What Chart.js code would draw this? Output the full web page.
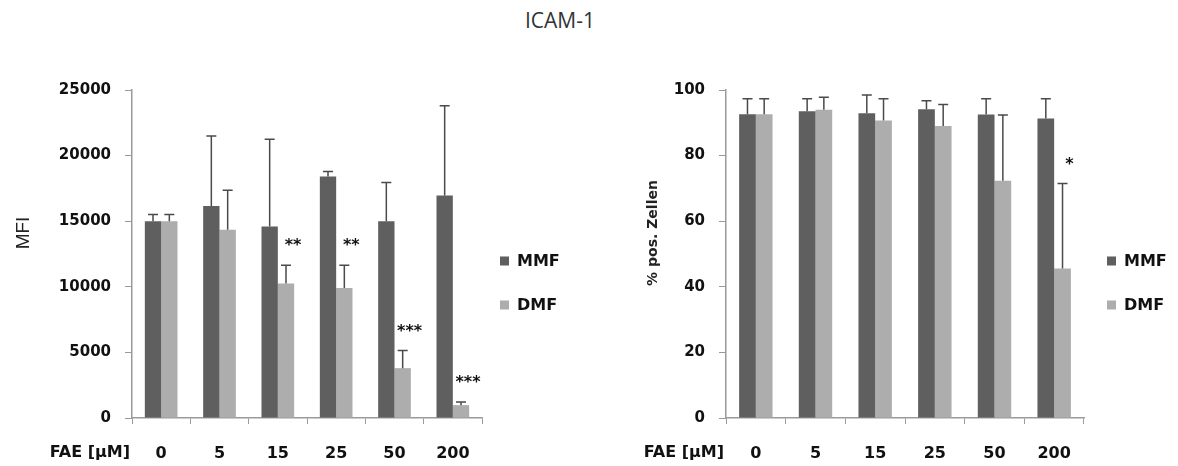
<!DOCTYPE html>
<html>
<head>
<meta charset="utf-8">
<script src="https://cdn.jsdelivr.net/npm/chart.js@4.4.0/dist/chart.umd.min.js"></script>
<style>
  body { margin: 0; background: #fff; }
  #wrap { position: relative; width: 1178px; height: 466px; }
  #titel { position: absolute; left: 460px; width: 200px; top: 6px; text-align: center;
           font: 21px "Open Sans", sans-serif; color: #333; }
  .panel { position: absolute; top: 0; height: 466px; }
</style>
</head>
<body>
<div id="wrap">
  <div id="titel">ICAM-1</div>
  <div class="panel" style="left:0; width:590px;"><canvas id="mfi"></canvas></div>
  <div class="panel" style="left:590px; width:588px;"><canvas id="pos"></canvas></div>
</div>
<script>
const kategorien = ["0", "5", "15", "25", "50", "200"];

const mfiMMF = [15000, 16150, 14600, 18400, 15000, 16950];
const mfiMMFFehler = [520, 5350, 6650, 380, 2950, 6850];
const mfiDMF = [15000, 14350, 10250, 9900, 3800, 980];
const mfiDMFFehler = [520, 3000, 1400, 1750, 1350, 230];
const mfiSterne = ["", "", "**", "**", "***", "***"];

const posMMF = [92.6, 93.5, 92.9, 94.1, 92.5, 91.3];
const posMMFFehler = [4.7, 3.8, 5.6, 2.6, 4.8, 6.0];
const posDMF = [92.6, 94.0, 90.7, 89.0, 72.3, 45.6];
const posDMFFehler = [4.7, 3.8, 6.6, 6.6, 20.1, 25.9];
const posSterne = ["", "", "", "", "", "*"];

const FARBE_MMF = "#5f5f5f";
const FARBE_DMF = "#adadad";
const ACHSE = "#9a9a9a";

// Fehlerbalken (nur nach oben), Sterne, Legende und Achsentitel
const extras = {
    id: "extras",
    afterDatasetsDraw(chart, args, opts) {
        const ctx = chart.ctx;
        const y = chart.scales.y;
        ctx.save();
        chart.data.datasets.forEach((ds, i) => {
            const meta = chart.getDatasetMeta(i);
            meta.data.forEach((bar, j) => {
                const oben = y.getPixelForValue(ds.data[j] + ds.fehler[j]);
                ctx.strokeStyle = "#4a4a4a";
                ctx.lineWidth = 1.5;
                ctx.beginPath();
                ctx.moveTo(bar.x, bar.y);
                ctx.lineTo(bar.x, oben);
                ctx.moveTo(bar.x - 5, oben);
                ctx.lineTo(bar.x + 5, oben);
                ctx.stroke();
                if (ds.sterne && ds.sterne[j]) {
                    ctx.fillStyle = "#111";
                    ctx.font = "bold 16px 'DejaVu Sans'";
                    ctx.textAlign = "center";
                    ctx.textBaseline = "middle";
                    ctx.fillText(ds.sterne[j], bar.x + 7, oben - 19);
                }
            });
        });

        // Legende
        const lx = chart.chartArea.right + opts.legendeX;
        chart.data.datasets.forEach((ds, i) => {
            const ly = 261 + i * 44;
            ctx.fillStyle = ds.backgroundColor;
            ctx.fillRect(lx, ly - 4.5, 9, 9);
            ctx.fillStyle = "#111";
            ctx.font = "bold 16px 'DejaVu Sans'";
            ctx.textAlign = "left";
            ctx.textBaseline = "middle";
            ctx.fillText(ds.label, lx + 17, ly + 1);
        });

        // y-Titel
        ctx.save();
        ctx.translate(opts.titelX, 233);
        ctx.rotate(-Math.PI / 2);
        ctx.fillStyle = "#222";
        ctx.font = opts.titelFont;
        ctx.textAlign = "center";
        ctx.textBaseline = "middle";
        ctx.fillText(opts.titel, 0, 0);
        ctx.restore();

        // x-Beschriftung links vom Ursprung
        ctx.fillStyle = "#111";
        ctx.font = "bold 16px 'DejaVu Sans'";
        ctx.textAlign = "right";
        ctx.textBaseline = "middle";
        ctx.fillText("FAE [µM]", chart.chartArea.left - 2, 453);
        ctx.restore();
    }
};

function macheDiagramm(id, mmf, mmfF, dmf, dmfF, sterne, yMax, yStep, yBreite, rechts, extraOpts) {
    return new Chart(document.getElementById(id), {
        type: "bar",
        data: {
            labels: kategorien,
            datasets: [
                { label: "MMF", data: mmf, fehler: mmfF, backgroundColor: FARBE_MMF },
                { label: "DMF", data: dmf, fehler: dmfF, sterne: sterne, backgroundColor: FARBE_DMF }
            ]
        },
        options: {
            responsive: true,
            maintainAspectRatio: false,
            animation: false,
            layout: { padding: { top: 90, left: 0, right: rechts, bottom: 0 } },
            datasets: { bar: { categoryPercentage: 0.56, barPercentage: 1.0 } },
            plugins: {
                legend: { display: false },
                tooltip: { enabled: false },
                extras: extraOpts
            },
            scales: {
                x: {
                    grid: { display: true, drawOnChartArea: false, drawTicks: true, tickLength: 6, color: ACHSE, offset: true },
                    border: { color: ACHSE, width: 1.5 },
                    ticks: { color: "#111", font: { family: "DejaVu Sans", size: 16, weight: "bold" }, padding: 20, maxRotation: 0 },
                    afterFit: s => { s.height = 48; }
                },
                y: {
                    min: 0, max: yMax,
                    grid: { display: true, drawOnChartArea: false, drawTicks: true, tickLength: 7, color: ACHSE },
                    border: { color: ACHSE, width: 1.5 },
                    ticks: { stepSize: yStep, color: "#111", font: { family: "DejaVu Sans", size: 15, weight: "bold" }, padding: 14,
                             callback: v => String(v) },
                    afterFit: s => { s.width = yBreite; }
                }
            }
        },
        plugins: [extras]
    });
}

macheDiagramm("mfi", mfiMMF, mfiMMFFehler, mfiDMF, mfiDMFFehler, mfiSterne, 25000, 5000, 132, 108,
    { legendeX: 18, titelX: 24, titel: "MFI", titelFont: "19px 'Liberation Sans'" });
macheDiagramm("pos", posMMF, posMMFFehler, posDMF, posDMFFehler, posSterne, 100, 20, 136, 94,
    { legendeX: 23, titelX: 63, titel: "% pos. Zellen", titelFont: "bold 14px 'DejaVu Sans'" });
</script>
</body>
</html>
